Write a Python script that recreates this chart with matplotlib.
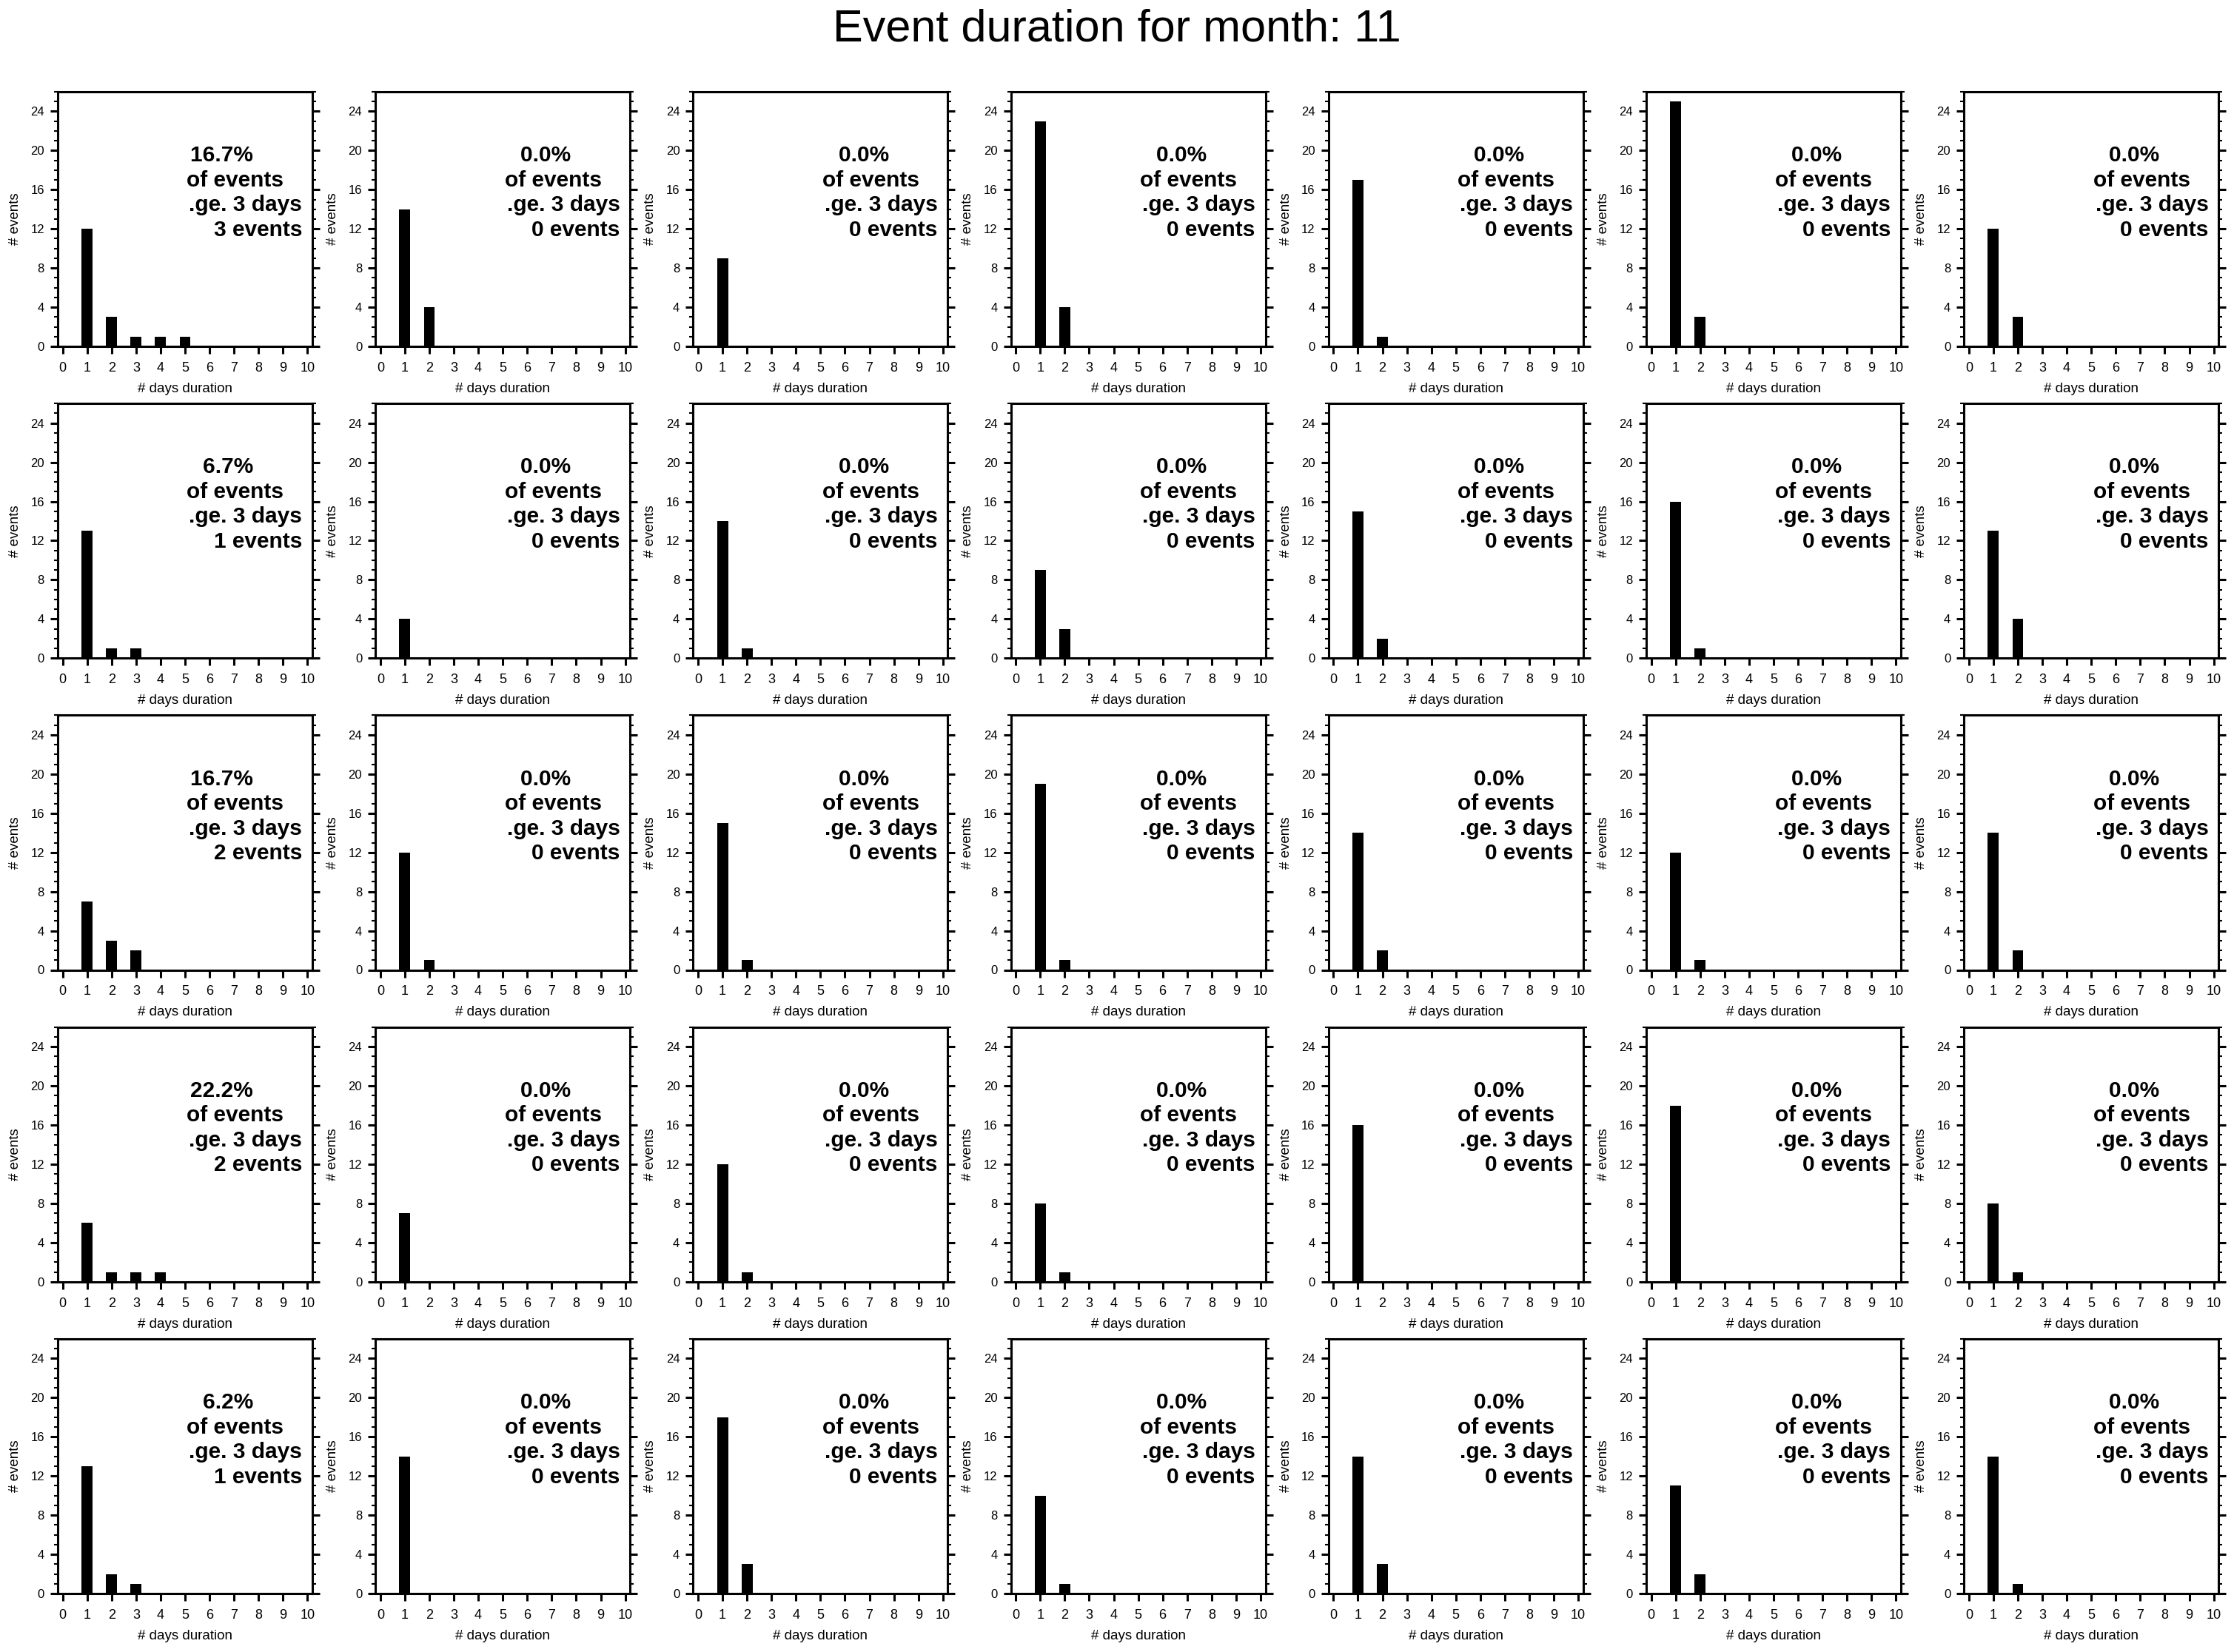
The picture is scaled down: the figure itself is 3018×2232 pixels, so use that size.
import numpy as np
import matplotlib.pyplot as plt
from matplotlib.ticker import MultipleLocator

plt.rcParams['font.family'] = ['Liberation Sans', 'DejaVu Sans']

month = 11
min_days = 3

# number of events for each duration (1, 2, 3 ... days), one list per panel
row1 = [[12, 3, 1, 1, 1], [14, 4], [9], [23, 4], [17, 1], [25, 3], [12, 3]]
row2 = [[13, 1, 1], [4], [14, 1], [9, 3], [15, 2], [16, 1], [13, 4]]
row3 = [[7, 3, 2], [12, 1], [15, 1], [19, 1], [14, 2], [12, 1], [14, 2]]
row4 = [[6, 1, 1, 1], [7], [12, 1], [8, 1], [16], [18], [8, 1]]
row5 = [[13, 2, 1], [14], [18, 3], [10, 1], [14, 3], [11, 2], [14, 1]]
rows = [row1, row2, row3, row4, row5]

x_ticks = np.arange(0, 11)
y_ticks = np.arange(0, 25, 4)

W, H = 3018, 2232
fig = plt.figure(figsize=(W / 100, H / 100), dpi=100)
fig.text(0.5, 1 - 55 / H, f"Event duration for month: {month}",
         ha='center', va='baseline', fontsize=44)

for r, row in enumerate(rows):
    for c, counts in enumerate(row):
        left = (78 + c * 429.2) / W
        bottom = 1 - (468 + r * 421.25) / H
        ax = fig.add_axes([left, bottom, 344 / W, 344 / H])

        days = np.arange(1, len(counts) + 1)
        ax.bar(days, counts, width=0.45, color='black', linewidth=0)

        ax.set_xlim(-0.2, 10.2)
        ax.set_ylim(0, 26)
        ax.set_xticks(x_ticks)
        ax.set_yticks(y_ticks)
        ax.yaxis.set_minor_locator(MultipleLocator(1))
        ax.tick_params(axis='both', which='both', direction='out',
                       left=True, right=True, top=False, bottom=True,
                       labelright=False)
        ax.tick_params(which='major', length=7, width=2.2)
        ax.tick_params(which='minor', length=3.6, width=1.5)
        ax.tick_params(axis='x', labelsize=13, pad=8)
        ax.tick_params(axis='y', labelsize=12, pad=6)
        for s in ax.spines.values():
            s.set_linewidth(2.2)

        ax.set_xlabel("# days duration", fontsize=13.5, labelpad=8)
        ax.set_ylabel("# events", fontsize=13.5, labelpad=9)

        n_long = sum(counts[min_days - 1:])
        pct = 100.0 * n_long / sum(counts)
        txt = (f"{pct:.1f}%" + " " * 8 + "\nof events" + " " * 3 +
               f"\n.ge. {min_days} days\n{n_long} events")
        ax.text(0.96, 0.79, txt, transform=ax.transAxes, ha='right', va='top',
                multialignment='right', fontsize=21.5, fontweight='bold',
                linespacing=1.25)

fig.savefig('out.png', dpi=100)
